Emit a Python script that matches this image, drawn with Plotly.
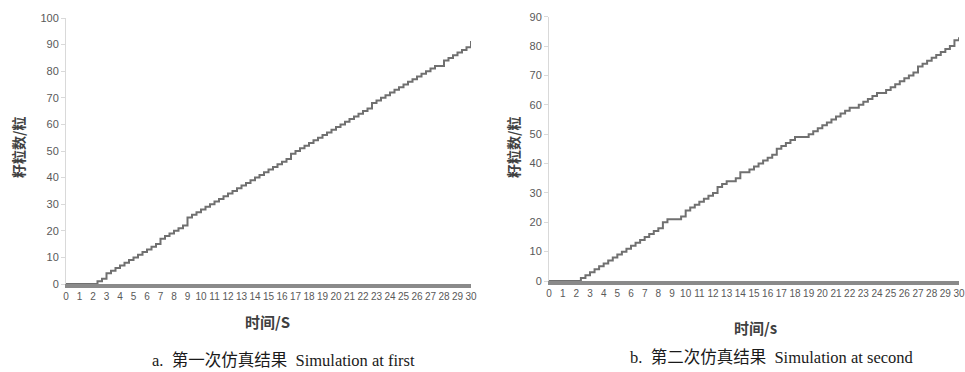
import plotly.graph_objects as go

# seed counts, one value every 1/3 s from 0 s to 30 s
seeds_first = [0, 0, 0, 0, 0, 0, 0, 1, 2, 4, 5, 6, 7, 8, 9, 10, 11, 12, 13, 14,
               15, 17, 18, 19, 20, 21, 22, 25, 26, 27, 28, 29, 30, 31, 32, 33, 34, 35,
               36, 37, 38, 39, 40, 41, 42, 43, 44, 45, 46, 47, 49, 50, 51, 52, 53, 54,
               55, 56, 57, 58, 59, 60, 61, 62, 63, 64, 65, 66, 68, 69, 70, 71, 72, 73,
               74, 75, 76, 77, 78, 79, 80, 81, 82, 82, 84, 85, 86, 87, 88, 89, 91, 92]

seeds_second = [0, 0, 0, 0, 0, 0, 0, 1, 2, 3, 4, 5, 6, 7, 8, 9, 10, 11, 12, 13,
                14, 15, 16, 17, 18, 20, 21, 21, 21, 22, 24, 25, 26, 27, 28, 29, 30, 32,
                33, 34, 34, 35, 37, 37, 38, 39, 40, 41, 42, 43, 45, 46, 47, 48, 49, 49,
                49, 50, 51, 52, 53, 54, 55, 56, 57, 58, 59, 59, 60, 61, 62, 63, 64, 64,
                65, 66, 67, 68, 69, 70, 71, 73, 74, 75, 76, 77, 78, 79, 80, 82, 83]

time_s = [round(k / 3, 4) for k in range(len(seeds_first))]   # sampling instants

x_ticks = list(range(0, 31))
y_ticks_first = list(range(0, 101, 10))
y_ticks_second = list(range(0, 91, 10))

W, H = 965, 372
LINE = "#707070"
TICKC = "#595959"
TICKFONT = dict(family="Liberation Sans, Arial", size=10, color=TICKC)
CJK = "Noto Sans CJK SC"


def px(x):
    return x / W


def py(y):
    return (H - y) / H


fig = go.Figure()
fig.add_trace(go.Scatter(x=time_s, y=seeds_first, mode="lines", line_shape="hv",
                         line=dict(color=LINE, width=2), xaxis="x", yaxis="y",
                         showlegend=False, cliponaxis=False, hoverinfo="skip"))
fig.add_trace(go.Scatter(x=time_s, y=seeds_second, mode="lines", line_shape="hv",
                         line=dict(color=LINE, width=2), xaxis="x2", yaxis="y2",
                         showlegend=False, cliponaxis=False, hoverinfo="skip"))

xcommon = dict(range=[0, 30], tickvals=x_ticks, ticktext=[str(v) for v in x_ticks],
               tickfont=TICKFONT, tickangle=0, showgrid=False, zeroline=False,
               showline=True, linecolor="#8a8a8a", linewidth=4, ticks="",
               ticklabeloverflow="allow", fixedrange=True)
ycommon = dict(showgrid=False, zeroline=False, showline=True, linecolor="#d9d9d9",
               linewidth=1, ticks="outside", ticklen=4, tickcolor="#d9d9d9",
               tickfont=dict(family="Liberation Sans, Arial", size=11, color=TICKC),
               fixedrange=True)

fig.update_layout(
    width=W, height=H, margin=dict(l=0, r=0, t=0, b=0, autoexpand=False),
    paper_bgcolor="white", plot_bgcolor="white", hovermode=False,
    xaxis=dict(domain=[px(66), px(471)], anchor="y", **xcommon),
    yaxis=dict(domain=[py(284), py(18)], anchor="x", range=[0, 100],
               tickvals=y_ticks_first, **ycommon),
    xaxis2=dict(domain=[px(549), px(959)], anchor="y2", **xcommon),
    yaxis2=dict(domain=[py(281), py(16.7)], anchor="x2", range=[0, 90],
                tickvals=y_ticks_second, **ycommon),
)

ann = []
ann.append(dict(text="<b>籽粒数/粒</b>", x=px(18), y=py(148), textangle=-90,
                font=dict(family=CJK, size=14, color="#404040")))
ann.append(dict(text="<b>籽粒数/粒</b>", x=px(513), y=py(148), textangle=-90,
                font=dict(family=CJK, size=14, color="#404040")))
ann.append(dict(text="<b>时间/S</b>", x=px(267), y=py(321),
                font=dict(family=CJK, size=15, color="#404040")))
ann.append(dict(text="<b>时间/s</b>", x=px(755), y=py(327),
                font=dict(family=CJK, size=15, color="#404040")))
ann.append(dict(text="a.  第一次仿真结果  Simulation at first", x=px(283), y=py(360),
                font=dict(family="Liberation Serif, " + CJK, size=16.5, color="#1a1a1a")))
ann.append(dict(text="b.  第二次仿真结果  Simulation at second", x=px(772), y=py(357),
                font=dict(family="Liberation Serif, " + CJK, size=16.5, color="#1a1a1a")))
for a in ann:
    a.update(xref="paper", yref="paper", showarrow=False, xanchor="center",
             yanchor="middle")
fig.update_layout(annotations=ann)

# remove the default 8px page margin so the 965x372 figure fills the window exactly
fig.write_html("out.html",
               config={"displayModeBar": False, "staticPlot": True},
               post_script="document.body.style.margin='0px';"
                           "document.body.style.overflow='hidden';")
